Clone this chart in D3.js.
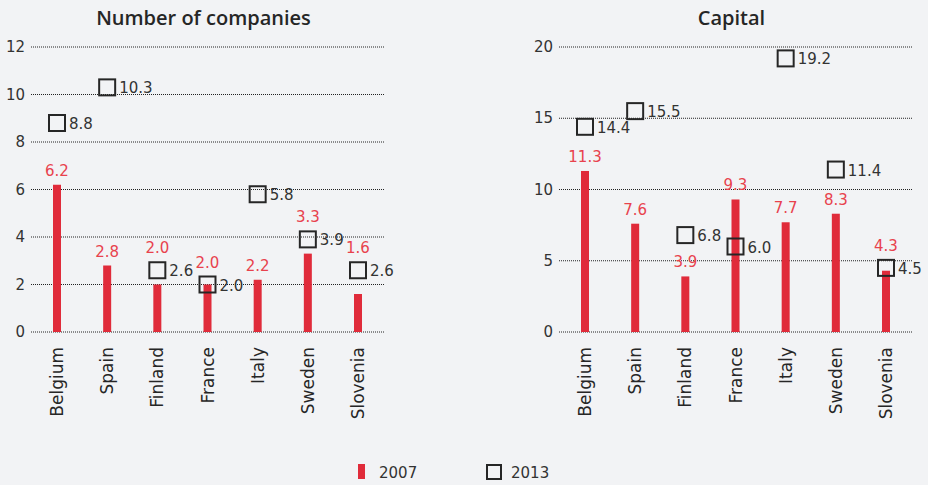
<!DOCTYPE html>
<html>
<head>
<meta charset="utf-8">
<script src="https://cdn.jsdelivr.net/npm/d3@7"></script>
<style>
  body { margin: 0; background: #f2f3f5; }
  svg { display: block; font-family: "DejaVu Sans", sans-serif; }
</style>
</head>
<body>
<div id="chart"></div>
<script>
var countries = ["Belgium", "Spain", "Finland", "France", "Italy", "Sweden", "Slovenia"]
var companies2007 = [6.2, 2.8, 2.0, 2.0, 2.2, 3.3, 1.6]
var companies2013 = [8.8, 10.3, 2.6, 2.0, 5.8, 3.9, 2.6]
var capital2007 = [11.3, 7.6, 3.9, 9.3, 7.7, 8.3, 4.3]
var capital2013 = [14.4, 15.5, 6.8, 6.0, 19.2, 11.4, 4.5]
var companiesTicks = [0, 2, 4, 6, 8, 10, 12]
var capitalTicks = [0, 5, 10, 15, 20]

var width = 928, height = 485
var red = "#e02b3a", redText = "#e8424d", ink = "#262626"

let svg = d3.select("#chart").append("svg").attr("width", width).attr("height", height)

function panel(title, v2007, v2013, ticks, x0, x1) {
    var g = svg.append("g")
    var y = d3.scaleLinear().domain([0, d3.max(ticks)]).range([332, 47])
    var x = d3.scalePoint().domain(countries).range([x0 + 26, x1 - 26])

    g.append("text").attr("x", (x0 + x1) / 2 - 4).attr("y", 25)
        .attr("text-anchor", "middle").style("font-family", "'Open Sans', sans-serif")
        .style("font-size", "20px").style("font-weight", 600)
        .style("fill", ink).text(title)

    // dotted grid + tick labels
    g.selectAll(".grid").data(ticks).join("line")
        .attr("x1", x0).attr("x2", x1).attr("y1", d => y(d)).attr("y2", d => y(d))
        .style("stroke", "#222").style("stroke-width", 1).style("stroke-dasharray", "1,1")
    g.selectAll(".tick").data(ticks).join("text")
        .attr("x", x0 - 6).attr("y", d => y(d) + 5).attr("text-anchor", "end")
        .style("font-size", "15px").style("fill", "#333").text(d => d)

    var rows = countries.map((c, i) => ({c: c, a: v2007[i], b: v2013[i]}))

    g.selectAll(".bar").data(rows).join("rect")
        .attr("x", d => x(d.c) - 4).attr("width", 8)
        .attr("y", d => y(d.a)).attr("height", d => y(0) - y(d.a))
        .style("fill", red)

    // red labels sit above the bar, or above the square when it is close
    g.selectAll(".lab07").data(rows).join("text")
        .attr("x", d => x(d.c)).attr("text-anchor", "middle")
        .attr("y", d => {
            var top = y(d.a)
            if (y(d.b) > top - 30) top = Math.min(top, y(d.b) - 8)
            return top - 9
        })
        .style("font-size", "15px").style("fill", redText).text(d => d3.format(".1f")(d.a))

    g.selectAll(".sq").data(rows).join("rect")
        .attr("x", d => x(d.c) - 8).attr("y", d => y(d.b) - 8)
        .attr("width", 16).attr("height", 16)
        .style("fill", "none").style("stroke", ink).style("stroke-width", 2)

    g.selectAll(".lab13").data(rows).join("text")
        .attr("x", d => x(d.c) + 12).attr("y", d => y(d.b) + 6)
        .style("font-size", "15px").style("fill", "#333").text(d => d3.format(".1f")(d.b))

    g.selectAll(".cat").data(countries).join("text")
        .attr("transform", d => "translate(" + (x(d) + 6) + ",347) rotate(-90)")
        .attr("text-anchor", "end")
        .style("font-size", "17px").style("fill", ink).text(d => d)
}

panel("Number of companies", companies2007, companies2013, companiesTicks, 31, 384)
panel("Capital", capital2007, capital2013, capitalTicks, 559, 912)

// legend
var leg = svg.append("g")
leg.append("rect").attr("x", 358).attr("y", 464).attr("width", 7).attr("height", 15).style("fill", red)
leg.append("text").attr("x", 379).attr("y", 478).style("font-size", "15px").style("fill", "#333").text("2007")
leg.append("rect").attr("x", 487).attr("y", 465).attr("width", 14).attr("height", 14)
    .style("fill", "none").style("stroke", ink).style("stroke-width", 2)
leg.append("text").attr("x", 511).attr("y", 478).style("font-size", "15px").style("fill", "#333").text("2013")
</script>
</body>
</html>
